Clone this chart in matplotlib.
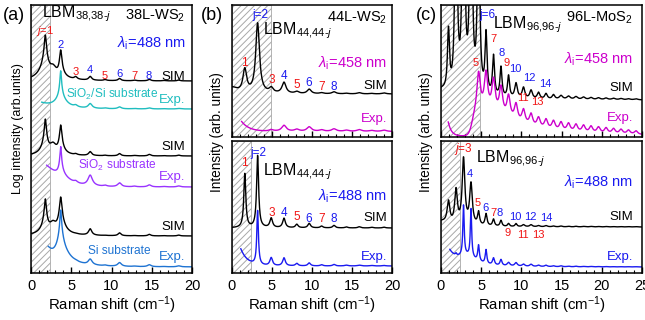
import numpy as np
import matplotlib
matplotlib.use("Agg")
import matplotlib.pyplot as plt
import matplotlib.transforms as mtrans

plt.rcParams['font.family'] = ['Liberation Sans', 'DejaVu Sans']
plt.rcParams['mathtext.fontset'] = 'custom'
plt.rcParams['mathtext.rm'] = 'Liberation Sans'
plt.rcParams['mathtext.it'] = 'Liberation Sans:italic'
plt.rcParams['mathtext.bf'] = 'Liberation Sans:bold'
plt.rcParams['hatch.linewidth'] = 0.7

# ---------------- data (peak positions / intensities / widths) -------------
# Panel (a) 38L-WS2, log intensity
a_pos = [1.78, 3.69, 5.55, 7.35, 9.2, 11.0, 12.85, 14.7, 16.5, 18.35]
a_sim1_int = [198, 34, 0.4, 0.6, 0.12, 0.3, 0.08, 0.19, 0.05, 0.1]
a_sim2_int = [69, 34, 0.15, 0.6, 0.06, 0.3, 0.05, 0.19, 0.04, 0.1]
a_sim3_int = [70, 88, 0.05, 1.2, 0.03, 0.4, 0.03, 0.19, 0.03, 0.1]
a_exp_sio2si_int = [0.0, 78, 0.3, 0.78, 0.08, 0.25, 0.05, 0.12, 0.03, 0.06]
a_exp_sio2_int = [0.0, 100, 0.4, 2.8, 0.15, 0.58, 0.08, 0.26, 0.05, 0.12]
a_exp_si_int = [0.0, 700, 0.1, 1.2, 0.1, 0.58, 0.05, 0.26, 0.03, 0.12]
a_hump_pos = [2.72, 2.72, 2.72]
a_hump_int = [3.9, 3.0, 3.5]
a_exp_start = [1.33, 1.95, 2.15]
a_exp_tail = [1.0, 11.0, 8.0]
a_exp_decay = [1.5, 1.1, 0.68]
a_exp_broad = [2.0, 1.5, 2.5]

# Panel (b) 44L-WS2
b_pos = [1.6, 3.2, 4.9, 6.5, 8.1, 9.65, 11.2, 12.75, 14.3, 15.9, 17.45, 19.0]
b_sim458_int = [23, 70, 5, 11, 2, 4.5, 1, 2, 0.6, 1.2, 0.5, 1.0]
b_exp458_int = [0, 0, 1.5, 6, 2, 4.5, 1.5, 2.5, 1.2, 1.8, 1.0, 1.3]
b_sim488_int = [54, 72, 9.5, 9.5, 3.5, 4.5, 1.8, 2.5, 1.0, 1.2, 0.7, 0.8]
b_exp488_int = [0, 54, 8, 8, 2.5, 3, 1.2, 1.5, 0.8, 0.8, 0.5, 0.5]
b_exp_start = [1.2, 1.1]
b_exp_tail = [10, 17]
b_exp_decay = [0.95, 0.86]

# Panel (c) 96L-MoS2
c_pos = [0.93, 1.87, 2.80, 3.73, 4.67, 5.60, 6.53, 7.46, 8.40, 9.33, 10.26, 11.20, 12.13,
         13.06, 13.99, 14.93, 15.86, 16.79, 17.73, 18.66, 19.59, 20.53, 21.46, 22.39, 23.32, 24.26]
c_sim458_int = [60, 250, 320, 300, 220, 60, 40, 30, 22, 15, 11, 8.5, 6.5, 5.5, 4.5, 3.8, 3.2,
                2.8, 2.4, 2.0, 1.8, 1.6, 1.4, 1.2, 1.0, 1.0]
c_exp458_int = [0, 0, 0, 0, 38, 36, 31, 27, 22, 17, 14, 12, 10, 9.5, 9, 8.5, 8, 7.5, 7, 6.5,
                6, 5.5, 5, 4.5, 4, 3.5]
c_sim488_int = [22, 34, 66, 41, 13, 12, 7, 6, 3, 3, 2, 2, 1.2, 1.2, 0.8, 0.8, 0.6, 0.6,
                0.5, 0.5, 0.4, 0.4, 0.3, 0.3, 0.3, 0.3]
c_exp488_int = [0, 2, 50, 48, 16, 14, 7, 6, 3.5, 3.5, 2.2, 2.2, 1.4, 1.4, 0.9, 0.9, 0.6,
                0.6, 0.4, 0.4, 0.3, 0.3, 0.2, 0.2, 0.2, 0.2]
c_exp458_bg = [5.0, 25.0, 4.4]     # centre, intensity, width of broad background
c_exp458_edge = [3.85, 0.22]       # filter edge position, width
c_exp_start = [0.9, 1.1]
c_exp_tail = [14, 14]
c_exp_decay = [0.4, 0.9]

# colours
BLACK = '#000000'
CYAN = '#1FBDBF'
PURPLE = '#9933FF'
SIBLUE = '#1E73D2'
MAGENTA = '#CC00CC'
BLUE = '#1A1AF0'
RED = '#F01414'


def lor(x, pos, amp, wid):
    x = np.asarray(x, float)[:, None]
    pos = np.asarray(pos, float)
    amp = np.asarray(amp, float)
    wid = np.broadcast_to(np.asarray(wid, float), pos.shape)
    return (amp * wid ** 2 / ((x - pos) ** 2 + wid ** 2)).sum(axis=1)


def tail(x, x0, t, d):
    return t * np.exp(-(x - x0) / d)


fig = plt.figure(figsize=(6.45, 3.2), dpi=100)
W, H = 645.0, 320.0


def add_ax(l, t, r, b):
    return fig.add_axes([l / W, 1 - b / H, (r - l) / W, (b - t) / H])


ax_a = add_ax(31, 5, 192, 273)
ax_bt = add_ax(232, 5, 392, 137)
ax_bb = add_ax(232, 141, 392, 273)
ax_ct = add_ax(441, 5, 642, 137)
ax_cb = add_ax(441, 141, 642, 273)


def style(ax, xmax, ylim, labels=True, hatch_to=None):
    ax.set_xlim(0, xmax)
    ax.set_ylim(0, ylim)
    ax.set_yticks([])
    ax.set_xticks(np.arange(0, xmax + 0.1, 5))
    ax.set_xticks(np.arange(0, xmax + 0.1, 1), minor=True)
    ax.tick_params(axis='x', which='major', direction='in', length=4.5, width=1.0,
                   labelsize=10.5, pad=4, colors='black')
    ax.tick_params(axis='x', which='minor', direction='in', length=2.5, width=0.8)
    if not labels:
        ax.tick_params(axis='x', labelbottom=False)
    else:
        ax.set_xlabel('Raman shift (cm$^{-1}$)', fontsize=10.8, labelpad=1)
    for s in ax.spines.values():
        s.set_linewidth(1.1)
    if hatch_to is not None:
        ax.axvspan(0, hatch_to, facecolor='white', edgecolor='#a8a8a8', hatch='/////',
                   lw=0.6, zorder=0)


def TP(ax, xd, ypx, s, col='black', size=10, ha='center', va='center'):
    # place at data x, figure pixel row y (from top)
    tr = mtrans.blended_transform_factory(ax.transData, fig.transFigure)
    ax.text(xd, 1 - ypx / H, s, color=col, fontsize=size, ha=ha, va=va, transform=tr)


SZ_TAG = 9.5     # SIM / Exp.
SZ_NUM = 8.0     # peak numbers
SZ_HEAD = 10.5   # sample / wavelength headers

# ---------------- panel (a) ----------------
S = 20.0
xa = np.linspace(0, 20, 2000)
style(ax_a, 20, 268, hatch_to=2.35)
sim_sets = [(a_sim1_int, 192, 0), (a_sim2_int, 117, 1), (a_sim3_int, 37, 2)]
wid_a = [0.09, 0.1, 0.2, 0.2, 0.2, 0.2, 0.2, 0.2, 0.2, 0.2]
for ints, off, k in sim_sets:
    I = 1 + lor(xa, a_pos, ints, wid_a) + lor(xa, [a_hump_pos[k]], [a_hump_int[k]], 0.4)
    ax_a.plot(xa, off + S * np.log10(I), color=BLACK, lw=1.0)
exp_sets = [(a_exp_sio2si_int, 164, CYAN, 0), (a_exp_sio2_int, 86, PURPLE, 1),
            (a_exp_si_int, 6, SIBLUE, 2)]
wid_ae = [0.1, 0.07, 0.25, 0.25, 0.25, 0.25, 0.25, 0.25, 0.25, 0.25]
for ints, off, col, k in exp_sets:
    x = xa[xa >= a_exp_start[k]]
    I = 1 + lor(x, a_pos, ints, wid_ae) + tail(x, a_exp_start[k], a_exp_tail[k], a_exp_decay[k]) \
        + lor(x, [a_pos[1]], [a_exp_broad[k]], 0.6)
    ax_a.plot(x, off + S * np.log10(I), color=col, lw=1.0)
fig.text(18 / W, 1 - 129 / H, 'Log intensity (arb.units)', rotation=90, fontsize=9,
         ha='center', va='center')

TP(ax_a, 1.4, 14, r'LBM$_{\text{38,38-}\mathit{j}}$', size=11.5, ha='left')
TP(ax_a, 19.2, 16, r'38L-WS$_2$', size=SZ_HEAD, ha='right')
TP(ax_a, 19.2, 43, r'$\lambda_\mathrm{i}$=488 nm', col=BLUE, size=SZ_HEAD, ha='right')
TP(ax_a, 1.78, 31, r'$\mathit{j}$=1', col=RED, size=SZ_NUM)
TP(ax_a, 3.69, 45, '2', col=BLUE, size=SZ_NUM)
for j, (xx, yy) in enumerate([(5.6, 72), (7.3, 70), (9.2, 76), (10.96, 74), (12.8, 76), (14.6, 76)]):
    TP(ax_a, xx, yy, str(j + 3), col=RED if (j + 3) % 2 else BLUE, size=SZ_NUM)
TP(ax_a, 19.2, 77, 'SIM', size=SZ_TAG, ha='right')
TP(ax_a, 4.35, 94, r'SiO$_2$/Si substrate', col=CYAN, size=8.6, ha='left')
TP(ax_a, 19.2, 100, 'Exp.', col=CYAN, size=SZ_TAG, ha='right')
TP(ax_a, 19.2, 147, 'SIM', size=SZ_TAG, ha='right')
TP(ax_a, 10.7, 165, r'SiO$_2$ substrate', col=PURPLE, size=8.6)
TP(ax_a, 19.2, 177, 'Exp.', col=PURPLE, size=SZ_TAG, ha='right')
TP(ax_a, 19.2, 227, 'SIM', size=SZ_TAG, ha='right')
TP(ax_a, 7.1, 251, 'Si substrate', col=SIBLUE, size=8.6, ha='left')
TP(ax_a, 19.2, 257, 'Exp.', col=SIBLUE, size=SZ_TAG, ha='right')
fig.text(3 / W, 1 - 15 / H, '(a)', fontsize=13, ha='left', va='center')

# ---------------- panel (b) ----------------
xb = np.linspace(0, 20, 2000)
style(ax_bt, 20, 132, labels=False, hatch_to=4.9)
style(ax_bb, 20, 132, labels=True, hatch_to=2.4)
wid_bt = [0.28] * 2 + [0.3] * 10
y = 43 + lor(xb, b_pos, b_sim458_int, wid_bt) + lor(xb, [0.0], [6.0], 0.8)
ax_bt.plot(xb, y, color=BLACK, lw=1.0)
x = xb[xb >= b_exp_start[0]]
y = 5.5 + lor(x, b_pos, b_exp458_int, 0.35) + tail(x, b_exp_start[0], b_exp_tail[0], b_exp_decay[0])
ax_bt.plot(x, y, color=MAGENTA, lw=1.0)
wid_bb = [0.15] * 2 + [0.2] * 10
y = 45 + lor(xb, b_pos, b_sim488_int, wid_bb)
ax_bb.plot(xb, y, color=BLACK, lw=1.0)
x = xb[xb >= b_exp_start[1]]
wid_bbe = [0.12] * 2 + [0.2] * 6 + [0.25] * 4
y = 7 + lor(x, b_pos, b_exp488_int, wid_bbe) + tail(x, b_exp_start[1], b_exp_tail[1], b_exp_decay[1])
ax_bb.plot(x, y, color=BLUE, lw=1.0)
fig.text(217 / W, 1 - 132.5 / H, 'Intensity (arb. units)', rotation=90, fontsize=9.8,
         ha='center', va='center')

TP(ax_bt, 3.5, 15, r'j=2', col=BLUE, size=8.5)
TP(ax_bt, 3.9, 31, r'LBM$_{\text{44,44-}\mathit{j}}$', size=11.5, ha='left')
TP(ax_bt, 19.4, 18, r'44L-WS$_2$', size=SZ_HEAD, ha='right')
TP(ax_bt, 19.4, 63, r'$\lambda_\mathrm{i}$=458 nm', col=MAGENTA, size=SZ_HEAD, ha='right')
TP(ax_bt, 1.6, 63, '1', col=RED, size=8.5)
for j, (xx, yy) in enumerate([(5.0, 80), (6.5, 76), (8.1, 85), (9.6, 83), (11.25, 87), (12.75, 87)]):
    TP(ax_bt, xx, yy, str(j + 3), col=RED if (j + 3) % 2 else BLUE, size=8.5)
TP(ax_bt, 19.4, 86, 'SIM', size=SZ_TAG, ha='right')
TP(ax_bt, 19.4, 119, 'Exp.', col=MAGENTA, size=SZ_TAG, ha='right')

TP(ax_bb, 3.3, 153, r'j=2', col=BLUE, size=8.5)
TP(ax_bb, 1.6, 163, '1', col=RED, size=8.5)
TP(ax_bb, 3.9, 172, r'LBM$_{\text{44,44-}\mathit{j}}$', size=11.5, ha='left')
TP(ax_bb, 19.4, 196, r'$\lambda_\mathrm{i}$=488 nm', col=BLUE, size=SZ_HEAD, ha='right')
for j, (xx, yy) in enumerate([(5.0, 213), (6.5, 213), (8.1, 217), (9.6, 219), (11.25, 219), (12.75, 219)]):
    TP(ax_bb, xx, yy, str(j + 3), col=RED if (j + 3) % 2 else BLUE, size=8.5)
TP(ax_bb, 19.4, 218, 'SIM', size=SZ_TAG, ha='right')
TP(ax_bb, 19.4, 257, 'Exp.', col=BLUE, size=SZ_TAG, ha='right')
fig.text(201 / W, 1 - 15 / H, '(b)', fontsize=13, ha='left', va='center')

# ---------------- panel (c) ----------------
xc = np.linspace(0, 25, 3000)
style(ax_ct, 25, 132, labels=False, hatch_to=4.9)
style(ax_cb, 25, 132, labels=True, hatch_to=2.4)
wid_ct = [0.15] * 9 + [0.2] * 6 + [0.25] * 11
y = 37 + lor(xc, c_pos, c_sim458_int, wid_ct) + lor(xc, [0.0], [8.0], 1.0)
ax_ct.plot(xc, y, color=BLACK, lw=1.0)
x = xc[xc >= c_exp_start[0]]
edge = 1.0 / (1.0 + np.exp(-(x - c_exp458_edge[0]) / c_exp458_edge[1]))
y = 1.0 + edge * (lor(x, c_pos, c_exp458_int, 0.25) + lor(x, [c_exp458_bg[0]], [c_exp458_bg[1]], c_exp458_bg[2])) \
    + tail(x, c_exp_start[0], c_exp_tail[0], c_exp_decay[0])
ax_ct.plot(x, y, color=MAGENTA, lw=1.0)
wid_cb = [0.2] * 4 + [0.15] * 6 + [0.2] * 16
y = 46 + lor(xc, c_pos, c_sim488_int, wid_cb) + lor(xc, [0.0], [5.0], 1.0)
ax_cb.plot(xc, y, color=BLACK, lw=1.0)
x = xc[xc >= c_exp_start[1]]
wid_cbe = [0.1] * 4 + [0.12] * 2 + [0.15] * 2 + [0.2] * 18
y = 6 + lor(x, c_pos, c_exp488_int, wid_cbe) + tail(x, c_exp_start[1], c_exp_tail[1], c_exp_decay[1]) \
    + lor(x, [3.2], [10.0], 1.5)
ax_cb.plot(x, y, color=BLUE, lw=1.0)
fig.text(426 / W, 1 - 132.5 / H, 'Intensity (arb. units)', rotation=90, fontsize=9.8,
         ha='center', va='center')

TP(ax_ct, 5.8, 15, r'j=6', col=BLUE, size=8.5)
TP(ax_ct, 6.5, 25, r'LBM$_{\text{96,96-}\mathit{j}}$', size=11.5, ha='left')
TP(ax_ct, 23.9, 18, r'96L-MoS$_2$', size=SZ_HEAD, ha='right')
TP(ax_ct, 23.9, 59, r'$\lambda_\mathrm{i}$=458 nm', col=MAGENTA, size=SZ_HEAD, ha='right')
for s, xx, yy in [('5', 4.35, 63), ('7', 6.5, 39), ('8', 7.5, 53), ('9', 8.2, 63), ('10', 9.25, 69),
                  ('11', 10.2, 98), ('12', 11.05, 78), ('13', 12.0, 102), ('14', 12.95, 84)]:
    TP(ax_ct, xx, yy, s, col=RED if int(s) % 2 else BLUE, size=SZ_NUM)
TP(ax_ct, 23.9, 88, 'SIM', size=SZ_TAG, ha='right')
TP(ax_ct, 23.9, 118, 'Exp.', col=MAGENTA, size=SZ_TAG, ha='right')

TP(ax_cb, 2.75, 149, r'$\mathit{j}$=3', col=RED, size=8.5)
TP(ax_cb, 4.3, 159, r'LBM$_{\text{96,96-}\mathit{j}}$', size=11.5, ha='left')
TP(ax_cb, 23.9, 182, r'$\lambda_\mathrm{i}$=488 nm', col=BLUE, size=SZ_HEAD, ha='right')
for s, xx, yy in [('4', 3.6, 174), ('5', 4.6, 203), ('6', 5.5, 208), ('7', 6.5, 213), ('8', 7.3, 213),
                  ('10', 9.2, 217), ('12', 11.15, 217), ('14', 13.05, 218),
                  ('9', 8.3, 233), ('11', 10.2, 235), ('13', 12.1, 235)]:
    TP(ax_cb, xx, yy, s, col=RED if int(s) % 2 else BLUE, size=SZ_NUM)
TP(ax_cb, 23.9, 217, 'SIM', size=SZ_TAG, ha='right')
TP(ax_cb, 23.9, 257, 'Exp.', col=BLUE, size=SZ_TAG, ha='right')
fig.text(416 / W, 1 - 15 / H, '(c)', fontsize=13, ha='left', va='center')

fig.savefig('out.png', dpi=100)
